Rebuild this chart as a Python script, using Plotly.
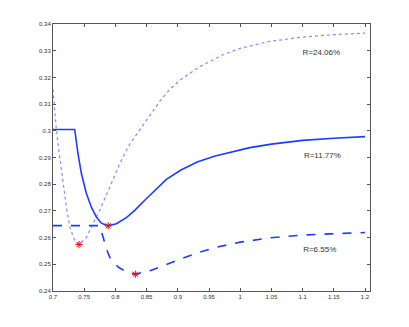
import plotly.graph_objects as go

# courbe pleine R=11.77%
x_plein = [0.7, 0.7348, 0.740, 0.7455, 0.7535, 0.7615, 0.7695, 0.7776, 0.7881, 0.8016, 0.8176,
           0.831, 0.847, 0.863, 0.8817, 0.905, 0.932, 0.96, 0.99, 1.0155, 1.05, 1.1, 1.15, 1.2]
y_plein = [0.3005, 0.3005, 0.2915, 0.2840, 0.2765, 0.2714, 0.2677, 0.2654, 0.2644, 0.2652, 0.2675,
           0.2702, 0.2740, 0.2777, 0.2818, 0.2853, 0.2884, 0.2906, 0.2924, 0.2937, 0.2950, 0.2964,
           0.2972, 0.2978]

# courbe pointillée R=24.06%
x_point = [0.7, 0.7054, 0.7107, 0.716, 0.7215, 0.727, 0.7348, 0.7417, 0.7535, 0.764, 0.7748, 0.791,
           0.807, 0.823, 0.839, 0.855, 0.871, 0.887, 0.903, 0.919, 0.935, 0.951, 0.9644, 0.9725,
           0.999, 1.045, 1.1, 1.15, 1.2]
y_point = [0.3155, 0.3003, 0.2902, 0.2802, 0.2714, 0.2639, 0.2589, 0.2574, 0.2601, 0.2652, 0.2702,
           0.2789, 0.2877, 0.2950, 0.3005, 0.3059, 0.3110, 0.3155, 0.3189, 0.3215, 0.3240, 0.3259,
           0.3275, 0.3285, 0.3308, 0.3334, 0.3351, 0.3360, 0.3366]

# courbe tiretée R=6.55%
x_tiret = [0.7, 0.774, 0.7802, 0.7855, 0.791, 0.798, 0.805, 0.818, 0.832, 0.8554, 0.8768, 0.9035,
           0.930, 0.962, 1.0, 1.048, 1.096, 1.144, 1.2]
y_tiret = [0.2645, 0.2645, 0.2603, 0.2558, 0.2526, 0.2504, 0.2489, 0.2471, 0.2463, 0.2476, 0.2495,
           0.2520, 0.2542, 0.2564, 0.2583, 0.2599, 0.2609, 0.2614, 0.2619]

# minima
x_min = [0.7417, 0.7885, 0.832]
y_min = [0.2574, 0.2644, 0.2463]

labels = ["R=24.06%", "R=11.77%", "R=6.55%"]
x_lab = [1.130, 1.1317, 1.1274]
y_lab = [0.3291, 0.2905, 0.2552]

bleu = "rgb(30,60,255)"
bleu_clair = "rgb(130,140,255)"

fig = go.Figure()
fig.add_trace(go.Scatter(x=x_point, y=y_point, mode="lines", line=dict(color=bleu_clair, width=1.2, dash="dot")))
fig.add_trace(go.Scatter(x=x_plein, y=y_plein, mode="lines", line=dict(color=bleu, width=1.6)))
fig.add_trace(go.Scatter(x=x_tiret, y=y_tiret, mode="lines", line=dict(color=bleu, width=1.6, dash="dash")))
fig.add_trace(go.Scatter(x=x_min, y=y_min, mode="markers",
                         marker=dict(symbol="asterisk-open", size=6, color="red", line=dict(color="red", width=1))))
fig.add_trace(go.Scatter(x=x_lab, y=y_lab, mode="text", text=labels,
                         textfont=dict(family="Liberation Sans, Arial", size=8, color="#333")))

axe = dict(showgrid=False, zeroline=False, showline=True, linecolor="#555", linewidth=1,
           mirror="ticks", ticks="inside", ticklen=3, tickcolor="#555",
           tickfont=dict(family="Liberation Sans, Arial", size=6, color="#333"))

# la page html ajoute une marge de 8px : on réduit la figure d'autant
fig.update_layout(
    width=401, height=319,
    margin=dict(l=45, r=39, t=16, b=36),
    paper_bgcolor="white", plot_bgcolor="white",
    showlegend=False,
    xaxis=dict(range=[0.7, 1.208], tickvals=[0.7, 0.75, 0.8, 0.85, 0.9, 0.95, 1, 1.05, 1.1, 1.15, 1.2],
               ticktext=["0.7", "0.75", "0.8", "0.85", "0.9", "0.95", "1", "1.05", "1.1", "1.15", "1.2"], **axe),
    yaxis=dict(range=[0.24, 0.34], tickvals=[0.24, 0.25, 0.26, 0.27, 0.28, 0.29, 0.3, 0.31, 0.32, 0.33, 0.34],
               ticktext=["0.24", "0.25", "0.26", "0.27", "0.28", "0.29", "0.3", "0.31", "0.32", "0.33", "0.34"], **axe),
)

fig.write_html("out.html")
